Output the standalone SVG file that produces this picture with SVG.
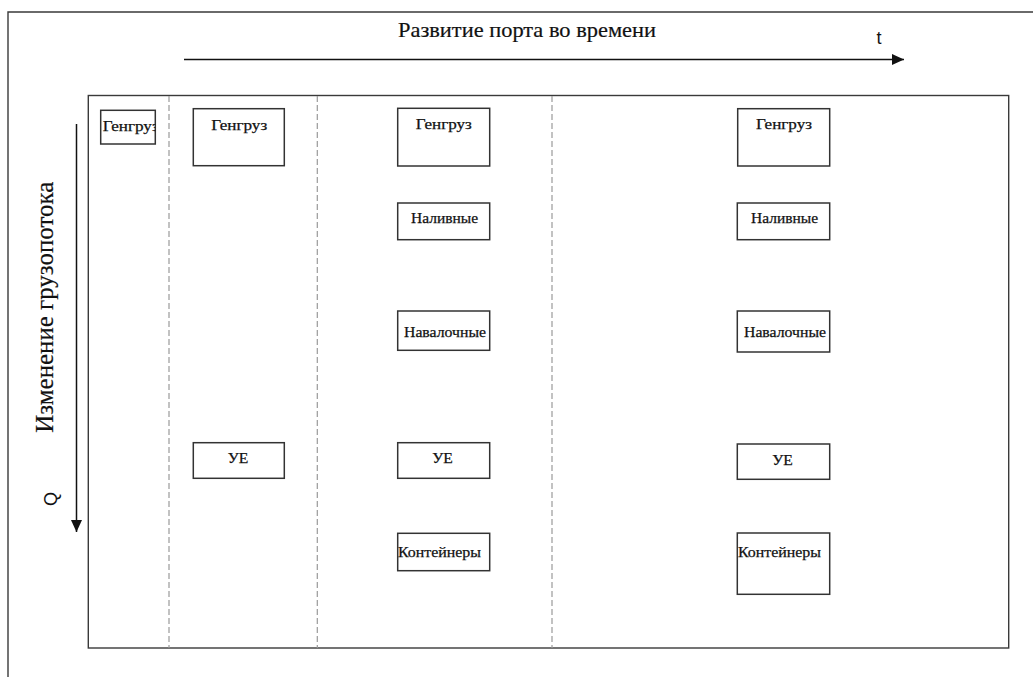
<svg xmlns="http://www.w3.org/2000/svg" width="1033" height="677" viewBox="0 0 1033 677">
<style>
.frame{fill:none;stroke:#3a3a3a;stroke-width:1.4}
.box{fill:#fff;stroke:#333;stroke-width:1.5}
.dash{fill:none;stroke:#9a9a9a;stroke-width:1.2;stroke-dasharray:6 3}
.axis{fill:none;stroke:#111;stroke-width:1.5}
.lbl{font-family:"Liberation Serif","DejaVu Serif",serif;font-size:15px;fill:#111;stroke:#111;stroke-width:0.25}
.title{font-family:"Liberation Serif","DejaVu Serif",serif;font-size:21px;fill:#111;stroke:#111;stroke-width:0.2}
.sans{font-family:"Liberation Sans",Arial,sans-serif;font-size:18px;fill:#111}
</style>
<defs>
<marker id="ah" markerUnits="userSpaceOnUse" markerWidth="13" markerHeight="12" refX="12.5" refY="5.75" orient="auto">
<path d="M0,0 L12.5,5.75 L0,11.5 z" fill="#111"/>
</marker>
<clipPath id="c1"><rect x="100.7" y="110.3" width="54.6" height="33.7"/></clipPath>
</defs>
<rect width="1033" height="677" fill="#fff"/>
<path class="frame" d="M8,677 V12 H1033"/>
<rect class="frame" x="88.3" y="95.5" width="920.4" height="552.5"/>
<g id="dividers">
<line class="dash" x1="169" y1="96" x2="169" y2="648"/>
<line class="dash" x1="317.3" y1="96" x2="317.3" y2="648"/>
<line class="dash" x1="552" y1="96" x2="552" y2="648"/>
</g>
<g id="connectors">
<line class="axis" x1="184" y1="59.5" x2="904" y2="59.5" marker-end="url(#ah)"/>
<line class="axis" x1="76.5" y1="124" x2="76.5" y2="532" marker-end="url(#ah)"/>
</g>
<g id="titles">
<text class="title" x="398" y="36.7" textLength="258" lengthAdjust="spacingAndGlyphs">Развитие порта во времени</text>
<text class="sans" x="879" y="44" text-anchor="middle">t</text>
<text class="title" transform="translate(53,307.2) rotate(-90)" text-anchor="middle" style="font-size:25px" textLength="251" lengthAdjust="spacingAndGlyphs">Изменение грузопотока</text>
<text class="sans" transform="translate(56.5,499) rotate(-90)" text-anchor="middle">Q</text>
</g>
<g id="c1-gengruz">
<rect class="box" x="100.7" y="110.3" width="54.6" height="33.7"/>
<text class="lbl" x="102.7" y="130.5" clip-path="url(#c1)" textLength="56" lengthAdjust="spacingAndGlyphs">Генгруз</text>
</g>
<g id="c2-gengruz">
<rect class="box" x="193.3" y="108.7" width="91" height="57"/>
<text class="lbl" x="239.2" y="130" text-anchor="middle" textLength="56" lengthAdjust="spacingAndGlyphs">Генгруз</text>
</g>
<g id="c2-ue">
<rect class="box" x="193.3" y="442.7" width="91" height="35.6"/>
<text class="lbl" x="238" y="463.3" text-anchor="middle" textLength="20.6" lengthAdjust="spacingAndGlyphs">УЕ</text>
</g>
<g id="c3-gengruz">
<rect class="box" x="397.7" y="108.3" width="92" height="57.7"/>
<text class="lbl" x="443.8" y="129.3" text-anchor="middle" textLength="56" lengthAdjust="spacingAndGlyphs">Генгруз</text>
</g>
<g id="c3-nalivnye">
<rect class="box" x="397.7" y="203" width="92" height="36.7"/>
<text class="lbl" x="444.5" y="223.3" text-anchor="middle" textLength="67" lengthAdjust="spacingAndGlyphs">Наливные</text>
</g>
<g id="c3-navalochnye">
<rect class="box" x="397.7" y="311" width="92" height="39.3"/>
<text class="lbl" x="445" y="336.5" text-anchor="middle" textLength="82" lengthAdjust="spacingAndGlyphs">Навалочные</text>
</g>
<g id="c3-ue">
<rect class="box" x="397.7" y="442.7" width="92" height="35.6"/>
<text class="lbl" x="442.5" y="463.3" text-anchor="middle" textLength="20.6" lengthAdjust="spacingAndGlyphs">УЕ</text>
</g>
<g id="c3-konteinery">
<rect class="box" x="397.7" y="533.3" width="92" height="37.4"/>
<text class="lbl" x="439.5" y="556.7" text-anchor="middle" textLength="83" lengthAdjust="spacingAndGlyphs">Контейнеры</text>
</g>
<g id="c4-gengruz">
<rect class="box" x="737.7" y="108.7" width="92" height="57.3"/>
<text class="lbl" x="784" y="129.3" text-anchor="middle" textLength="56" lengthAdjust="spacingAndGlyphs">Генгруз</text>
</g>
<g id="c4-nalivnye">
<rect class="box" x="737.3" y="203" width="92.4" height="36.7"/>
<text class="lbl" x="784.5" y="223.3" text-anchor="middle" textLength="67" lengthAdjust="spacingAndGlyphs">Наливные</text>
</g>
<g id="c4-navalochnye">
<rect class="box" x="737.3" y="311" width="92.4" height="41"/>
<text class="lbl" x="785" y="336.5" text-anchor="middle" textLength="82" lengthAdjust="spacingAndGlyphs">Навалочные</text>
</g>
<g id="c4-ue">
<rect class="box" x="737.3" y="444" width="92.4" height="35.3"/>
<text class="lbl" x="782.5" y="465" text-anchor="middle" textLength="20.6" lengthAdjust="spacingAndGlyphs">УЕ</text>
</g>
<g id="c4-konteinery">
<rect class="box" x="737.3" y="533" width="92.4" height="61.3"/>
<text class="lbl" x="779.5" y="556.7" text-anchor="middle" textLength="83" lengthAdjust="spacingAndGlyphs">Контейнеры</text>
</g>
</svg>
